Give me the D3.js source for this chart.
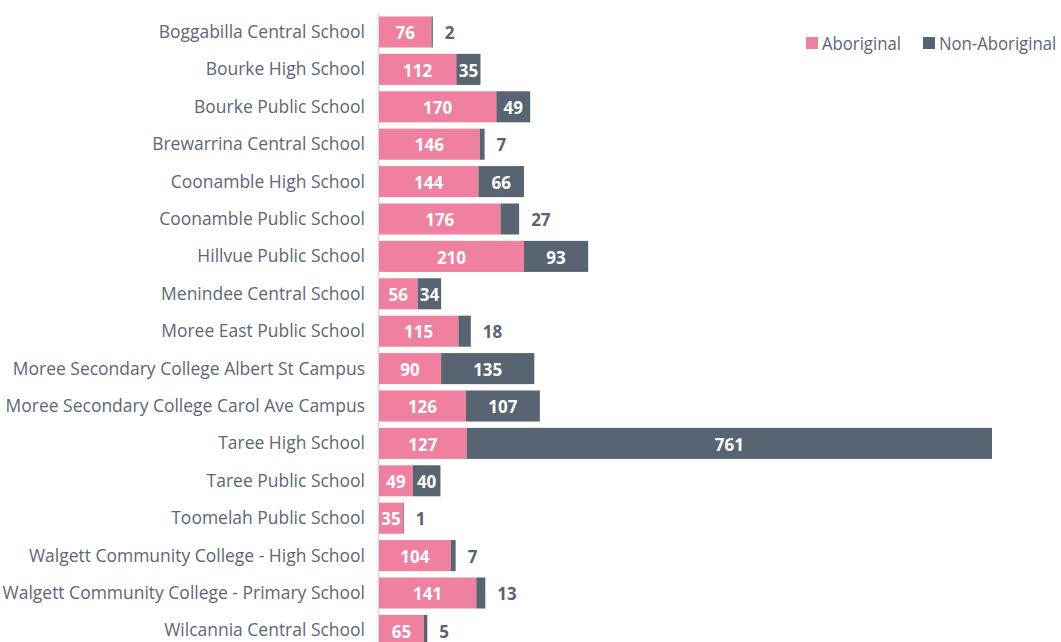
<!DOCTYPE html>
<html>
<head>
<meta charset="utf-8">
<script src="https://cdn.jsdelivr.net/npm/d3@7"></script>
<style>
  body { margin: 0; background: #fff; }
  svg { display: block; }
  .lbl { font-family: "Open Sans", "Noto Sans", sans-serif; fill: #5b6676; }
  .val { font-family: "Open Sans", "Noto Sans", sans-serif; font-weight: 700; }
</style>
</head>
<body>
<svg id="chart" width="1061" height="642"></svg>
<script>
// schools, top to bottom
var schools = [
    'Boggabilla Central School',
    'Bourke High School',
    'Bourke Public School',
    'Brewarrina Central School',
    'Coonamble High School',
    'Coonamble Public School',
    'Hillvue Public School',
    'Menindee Central School',
    'Moree East Public School',
    'Moree Secondary College Albert St Campus',
    'Moree Secondary College Carol Ave Campus',
    'Taree High School',
    'Taree Public School',
    'Toomelah Public School',
    'Walgett Community College - High School',
    'Walgett Community College - Primary School',
    'Wilcannia Central School'
];
var aboriginal = [76, 112, 170, 146, 144, 176, 210, 56, 115, 90, 126, 127, 49, 35, 104, 141, 65];
var nonAboriginal = [2, 35, 49, 7, 66, 27, 93, 34, 18, 135, 107, 761, 40, 1, 7, 13, 5];
var seriesNames = ['Aboriginal', 'Non-Aboriginal'];
var colors = ['#ef809f', '#586472'];

var svg = d3.select('#chart');
var squeeze = 0.92; // label font is narrower than Open Sans

var rows = schools.map(function(name, i) {
    return { name: name, values: [aboriginal[i], nonAboriginal[i]] };
});

var x = d3.scaleLinear()
    .domain([0, d3.max(rows, function(d) { return d.values[0] + d.values[1]; })])
    .range([379, 992]);

var y = d3.scaleBand()
    .domain(schools)
    .range([13.3, 649.1])
    .paddingInner(0.17)
    .paddingOuter(0.085);

// category axis
var yAxis = svg.append('g')
    .attr('transform', 'translate(378,0)')
    .call(d3.axisLeft(y).tickSize(0).tickPadding(13));
yAxis.select('.domain').attr('stroke', '#d9dde2').attr('stroke-width', 2);
yAxis.selectAll('text')
    .attr('class', 'lbl')
    .attr('font-size', 19)
    .attr('fill', '#5b6676')
    .attr('x', -13 / squeeze)
    .attr('transform', 'scale(' + squeeze + ',1)');

// stacked segments
var segs = [];
rows.forEach(function(r) {
    var x0 = 0;
    r.values.forEach(function(v, k) {
        segs.push({ name: r.name, k: k, v: v, x0: x0, x1: x0 + v });
        x0 += v;
    });
});

svg.append('g').selectAll('rect')
    .data(segs)
    .enter().append('rect')
    .attr('x', function(d) { return x(d.x0); })
    .attr('y', function(d) { return y(d.name); })
    .attr('width', function(d) { return x(d.x1) - x(d.x0); })
    .attr('height', y.bandwidth())
    .attr('fill', function(d) { return colors[d.k]; });

// value labels: inside when the segment is wide enough, else just past the bar end
svg.append('g').selectAll('text')
    .data(segs)
    .enter().append('text')
    .attr('class', 'val')
    .attr('font-size', 17)
    .attr('dy', '0.36em')
    .attr('y', function(d) { return y(d.name) + y.bandwidth() / 2 + 1; })
    .each(function(d) {
        var w = x(d.x1) - x(d.x0),
            t = d3.select(this).text(d.v);
        if (w > 20) {
            t.attr('x', (x(d.x0) + x(d.x1)) / 2).attr('text-anchor', 'middle').attr('fill', '#fff');
        } else {
            t.attr('x', x(d.x1) + 12).attr('text-anchor', 'start').attr('fill', '#586472');
        }
    });

// legend
var legend = svg.append('g').attr('class', 'legend');
var lx = [806, 923];
seriesNames.forEach(function(s, i) {
    legend.append('rect')
        .attr('x', lx[i]).attr('y', 37)
        .attr('width', 12).attr('height', 12)
        .attr('fill', colors[i]);
    legend.append('g')
        .attr('transform', 'translate(' + (lx[i] + 16) + ',43) scale(0.88,1)')
        .append('text')
        .attr('class', 'lbl')
        .attr('dy', '0.36em')
        .attr('font-size', 19)
        .text(s);
});
</script>
</body>
</html>
